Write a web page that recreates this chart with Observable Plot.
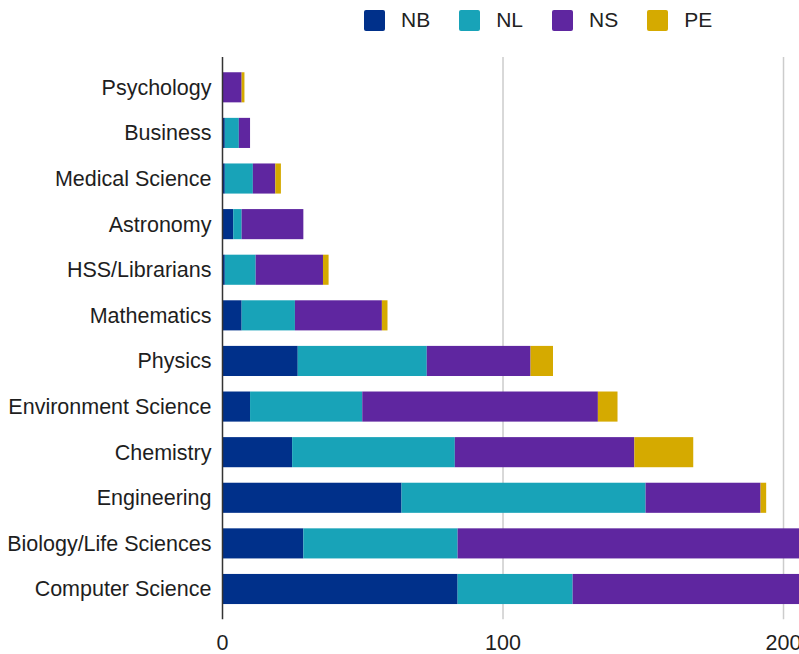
<!DOCTYPE html>
<html>
<head>
<meta charset="utf-8">
<script src="https://cdn.jsdelivr.net/npm/d3@7"></script>
<script src="https://cdn.jsdelivr.net/npm/@observablehq/plot@0.6"></script>
<style>
  html, body { margin: 0; padding: 0; background: #fff; overflow: hidden; }
  body { width: 799px; height: 654px; position: relative; font-family: "Liberation Sans", Arial, sans-serif; }
  #legend { position: absolute; left: 364px; top: 9px; height: 22px; display: flex; align-items: center; font-size: 21px; color: #222; }
  #legend .sw { width: 21px; height: 21px; border-radius: 2px; margin-right: 16px; }
  #legend .lb { margin-right: 29px; }
  #chart { position: absolute; left: 0; top: 40px; }
</style>
</head>
<body>
<div id="legend"></div>
<div id="chart"></div>
<script>
const categories = ["Psychology", "Business", "Medical Science", "Astronomy", "HSS/Librarians", "Mathematics", "Physics", "Environment Science", "Chemistry", "Engineering", "Biology/Life Sciences", "Computer Science"];
const seriesNames = ["NB", "NL", "NS", "PE"];
const colors = ["#00308a", "#18a3b8", "#5f26a0", "#d5aa00"];
const nbValues = [0, 1, 1, 4, 1, 7, 27, 10, 25, 64, 29, 84];
const nlValues = [0, 5, 10, 3, 11, 19, 46, 40, 58, 87, 55, 41];
const nsValues = [7, 4, 8, 22, 24, 31, 37, 84, 64, 41, 130, 110];
const peValues = [1, 0, 2, 0, 2, 2, 8, 7, 21, 2, 3, 2];
const xTicks = [0, 100, 200];

const seriesValues = [nbValues, nlValues, nsValues, peValues];
const data = categories.flatMap((c, i) => seriesNames.map((s, j) => ({category: c, series: s, value: seriesValues[j][i]})));

const legend = document.getElementById("legend");
seriesNames.forEach((s, j) => {
  const sw = document.createElement("div");
  sw.className = "sw";
  sw.style.background = colors[j];
  const lb = document.createElement("div");
  lb.className = "lb";
  lb.textContent = s;
  legend.appendChild(sw);
  legend.appendChild(lb);
});

const chart = Plot.plot({
  width: 799,
  height: 614,
  marginTop: 24.5,
  marginBottom: 42.2,
  marginLeft: 222,
  marginRight: 0,
  style: {fontFamily: "Liberation Sans, Arial, sans-serif", fontSize: "21.5px", color: "#1e1e1e", background: "#fff"},
  x: {domain: [0, 205.7], ticks: xTicks, tickFormat: d => String(d), tickSize: 0, tickPadding: 22, label: null},
  y: {domain: categories, paddingInner: 0.34, paddingOuter: 0.17, round: false, tickSize: 0, tickPadding: 11, label: null},
  color: {domain: seriesNames, range: colors},
  marks: [
    Plot.ruleX(xTicks.filter(d => d !== 0), {stroke: "#cccccc", strokeWidth: 1.5, insetTop: -7.5, insetBottom: -7.5}),
    Plot.barX(data, Plot.stackX({y: "category", x: "value", fill: "series", clip: true})),
    Plot.ruleX([0], {stroke: "#333333", strokeWidth: 1.5, insetTop: -7.5, insetBottom: -7.5})
  ]
});
document.getElementById("chart").appendChild(chart);
</script>
</body>
</html>
